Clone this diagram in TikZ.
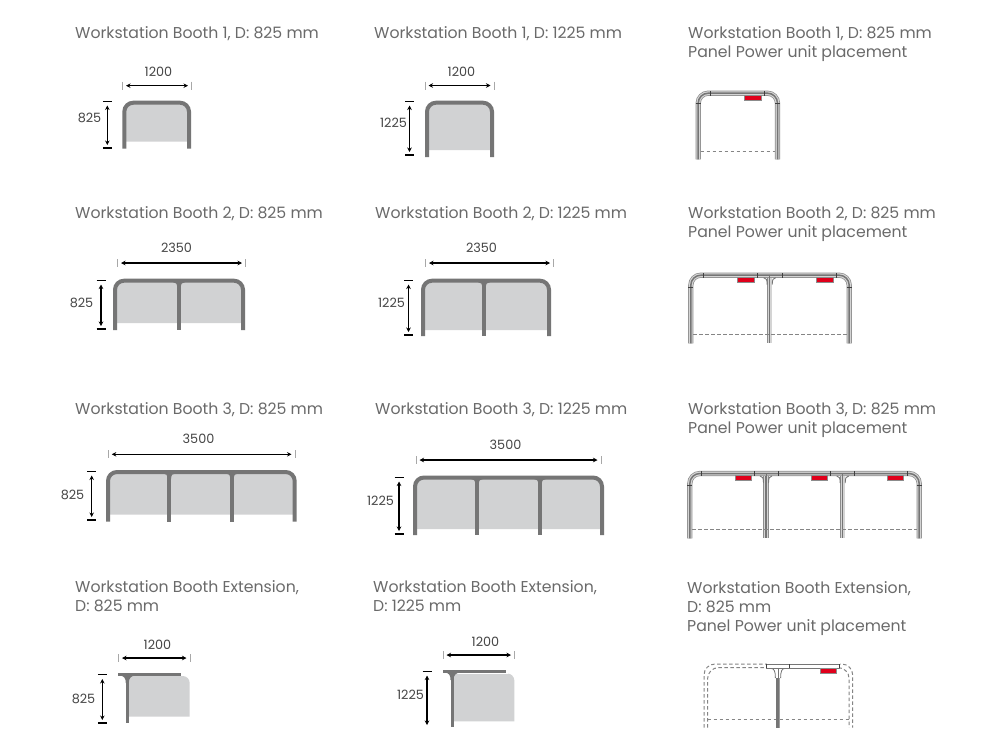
\documentclass[tikz,border=0pt]{standalone}
\usepackage{fontspec}
\setmainfont{Poppins}
\usetikzlibrary{arrows.meta}
\definecolor{titlecol}{HTML}{6A6A6A}
\definecolor{labcol}{HTML}{454545}
\definecolor{barcol}{HTML}{757575}
\definecolor{panelcol}{HTML}{D1D2D3}
\definecolor{tickcol}{HTML}{A8A8A8}
\definecolor{redcol}{HTML}{E0001B}
\definecolor{edgecol}{HTML}{8C8C8C}
\definecolor{palecol}{HTML}{D4D4D4}
\definecolor{dashcol}{HTML}{858585}
\tikzset{
  titletext/.style={anchor=north west,inner sep=0pt,align=left,text=titlecol,font=\fontsize{15.7}{19}\selectfont},
  dimtext/.style={inner sep=0pt,text=labcol,font=\fontsize{12.8}{14}\selectfont},
  dimarrow/.style={draw=black,line width=1.2pt,{Stealth[length=4.5pt,width=4.5pt]}-{Stealth[length=4.5pt,width=4.5pt]}},
  greytick/.style={draw=tickcol,line width=1pt},
  toptick/.style={draw=black,line width=.8pt},
  bottick/.style={draw=black,line width=1.6pt},
  solidbar/.style={draw=barcol,line width=4pt},
  panel/.style={fill=panelcol,draw=none},
  dashline/.style={draw=dashcol,line width=1pt,dash pattern=on 3.5pt off 2.5pt},
  redbox/.style={fill=redcol,draw=edgecol,line width=.5pt},
  smalltick/.style={draw=black!75,line width=.7pt},
}
% id, x1, x2, y, label x, label y, text
\newcommand{\hdimen}[7]{
  \coordinate (#1a) at (#2+3.5,#4);
  \coordinate (#1b) at (#3-3.5,#4);
  \draw[greytick] (#2,#4-4) -- (#2,#4+4);
  \draw[greytick] (#3,#4-4) -- (#3,#4+4);
  \draw[dimarrow] (#1a) -- (#1b);
  \node[dimtext] (#1t) at (#5+.5,#6+.5) {#7};
}
% id, x, ytop, ybot, label x, label y, text
\newcommand{\vdimen}[7]{
  \coordinate (#1a) at (#2,#3+4.5);
  \coordinate (#1b) at (#2,#4-3);
  \draw[toptick] (#2-4.5,#3) -- (#2+4.5,#3);
  \draw[bottick] (#2-4.5,#4) -- (#2+4.5,#4);
  \draw[dimarrow] (#1a) -- (#1b);
  \node[dimtext] (#1t) at (#5+.5,#6+.5) {#7};
}
% x0, x1 (outer), ytop (outer), ybot, ygrey, posts
\newcommand{\solidbooth}[6]{
  \fill[panel] (#1+2,#5) [rounded corners=8pt] -- (#1+2,#3+2) -- (#2-2,#3+2) [sharp corners] -- (#2-2,#5) -- cycle;
  \draw[solidbar,rounded corners=9pt] (#1+2,#4) -- (#1+2,#3+2) -- (#2-2,#3+2) -- (#2-2,#4);
  \foreach \p in {#6}{
    \draw[solidbar] (\p,#3+2) -- (\p,#4);
    \fill[barcol] (\p-6,#3+3.5) .. controls (\p-3,#3+3.5) and (\p-1.8,#3+5) .. (\p-1.8,#3+9)
       -- (\p+1.8,#3+9) .. controls (\p+1.8,#3+5) and (\p+3,#3+3.5) .. (\p+6,#3+3.5) -- cycle;
  }
}
% x0,x1 outer, ytop outer, ybot, ydash, posts, reds (left x), ticks, post tick y
\newcommand{\pipeframe}[9]{
  \foreach \w/\c in {5.2/edgecol,3.8/palecol,1.5/barcol}{
    \draw[draw=\c,line width=\w pt,rounded corners=10pt] (#1+2.5,#4) -- (#1+2.5,#3+2.5) -- (#2-2.5,#3+2.5) -- (#2-2.5,#4);
  }
  \foreach \p in {#6}{
    \foreach \w/\c in {5.2/edgecol,3.8/palecol,1.5/barcol}{
      \draw[draw=\c,line width=\w pt] (\p,#3+5) -- (\p,#4);
    }
    \draw[barcol,line width=.9pt] (\p-6,#3+5) .. controls (\p-3.5,#3+5) and (\p-2.5,#3+7) .. (\p-2.5,#3+12);
    \draw[barcol,line width=.9pt] (\p+6,#3+5) .. controls (\p+3.5,#3+5) and (\p+2.5,#3+7) .. (\p+2.5,#3+12);
    \draw[barcol,line width=1pt] (\p,#3+2) -- (\p,#3+10);
  }
  \foreach \t in {#8}{ \draw[smalltick] (\t,#3+.4) -- (\t,#3+5); }
  \draw[smalltick] (#1,#9) -- (#1+5,#9);
  \draw[smalltick] (#2-5,#9) -- (#2,#9);
  \draw[dashline] (#1+5,#5) -- (#2-5,#5);
  \foreach \r in {#7}{ \draw[redbox] (\r,#3+4.6) rectangle (\r+16.5,#3+9.6); }
}
\begin{document}
\begin{tikzpicture}[x=1pt,y=-1pt]
\useasboundingbox (0,0) rectangle (1000,750);
\fill[white] (0,0) rectangle (1000,750);

% titles
\node[titletext] (t11) at (75,26) {Workstation Booth 1, D: 825 mm};
\node[titletext] (t12) at (374,26) {Workstation Booth 1, D: 1225 mm};
\node[titletext] (t13) at (688,26) {Workstation Booth 1, D: 825 mm\\Panel Power unit placement};
\node[titletext] (t21) at (75,206) {Workstation Booth 2, D: 825 mm};
\node[titletext] (t22) at (375,206) {Workstation Booth 2, D: 1225 mm};
\node[titletext] (t23) at (688,206) {Workstation Booth 2, D: 825 mm\\Panel Power unit placement};
\node[titletext] (t31) at (75,402) {Workstation Booth 3, D: 825 mm};
\node[titletext] (t32) at (375,402) {Workstation Booth 3, D: 1225 mm};
\node[titletext] (t33) at (688,402) {Workstation Booth 3, D: 825 mm\\Panel Power unit placement};
\node[titletext] (t41) at (75,580) {Workstation Booth Extension,\\D: 825 mm};
\node[titletext] (t42) at (373,580) {Workstation Booth Extension,\\D: 1225 mm};
\node[titletext] (t43) at (687,581) {Workstation Booth Extension,\\D: 825 mm\\Panel Power unit placement};

% booths
\solidbooth{122.3}{191}{100.7}{148.7}{141.7}{}
\solidbooth{425}{494}{100.7}{157}{150}{}
\solidbooth{113}{245}{278.7}{330}{323}{179}
\solidbooth{421}{551}{278.7}{336}{330}{484}
\solidbooth{106}{296.7}{470}{521.7}{514.7}{169.3,232}
\solidbooth{413}{604}{475.5}{535}{529}{477,540}

% dimensions
\hdimen{h11}{122.5}{191.5}{85.7}{158}{71}{1200}
\vdimen{v11}{107.3}{101}{148}{89}{117}{825}
\hdimen{h12}{425}{494}{85.5}{461}{71}{1200}
\vdimen{v12}{409.5}{101}{155}{393}{122}{1225}
\hdimen{h21}{117.5}{245.5}{263}{176}{247}{2350}
\vdimen{v21}{101}{280}{329}{81}{302}{825}
\hdimen{h22}{425.5}{553.5}{263}{481}{247}{2350}
\vdimen{v22}{408.5}{280}{335}{391}{302}{1225}
\hdimen{h31}{108.3}{295}{454.3}{198}{438}{3500}
\vdimen{v31}{91.7}{471}{520}{72}{494}{825}
\hdimen{h32}{416}{601}{460}{505}{444}{3500}
\vdimen{v32}{399}{477}{534}{380}{500}{1225}
\hdimen{h41}{118.5}{190}{658}{157}{644}{1200}
\vdimen{v41}{102.3}{674.5}{723}{83}{698}{825}
\hdimen{h42}{443}{514.5}{655}{485}{641}{1200}

% extension booth, D 825
\fill[panel] (127,716.7) -- (127,676) [rounded corners=7pt] -- (189.7,676) [sharp corners] -- (189.7,716.7) -- cycle;
\draw[draw=white,line width=1pt] (127,675.8) -- (183,675.8);
\draw[draw=barcol,line width=3pt] (118.3,674.7) -- (181,674.7);
\draw[draw=barcol,line width=3pt] (127.3,675) -- (127.3,723);
\fill[barcol] (120,675.5) .. controls (124,676) and (125.8,678) .. (125.8,683) -- (128.8,683) .. controls (128.8,678) and (131,676) .. (135,675.5) -- cycle;

% extension booth, D 1225
\fill[panel] (452,721.3) -- (452,673.5) [rounded corners=7pt] -- (514.3,673.5) [sharp corners] -- (514.3,721.3) -- cycle;
\draw[draw=white,line width=1pt] (452,673.4) -- (508,673.4);
\draw[draw=barcol,line width=3pt] (443,671.7) -- (506,671.7);
\draw[draw=barcol,line width=3pt] (452,672) -- (452,726.7);
\fill[barcol] (445,672.5) .. controls (449,673) and (450.5,675) .. (450.5,680) -- (453.5,680) .. controls (453.5,675) and (456,673) .. (460,672.5) -- cycle;
\coordinate (v42a) at (427,675.5);
\coordinate (v42b) at (427,725);
\draw[toptick] (422.5,671) -- (431.5,671);
\draw[dimarrow] (v42a) -- (v42b);
\node[dimtext] (v42t) at (410.5,694.5) {1225};

% panel power frames
\pipeframe{695.7}{780}{90.7}{159.3}{151}{}{744.3}{710.7,764.3}{103}
\pipeframe{688.3}{851.7}{272.7}{343.3}{334.3}{769.7}{737.3,816.7}{703.3,757.3,782.3,836.7}{287}
\pipeframe{687.3}{921.7}{471}{538.3}{529.7}{766,842.7}{735,811,887}{701,754,778,830,854,907}{485}

% extension frame
\foreach \o in {0,3.6}{
  \draw[dashline,rounded corners=11pt] (704+\o,727.7) -- (704+\o,664+\o) -- (852.7-\o,664+\o) -- (852.7-\o,727.7);
}
\draw[dashline] (707.6,719.3) -- (849,719.3);
\draw[draw=white,fill=white] (766.7,663.5) rectangle (839,669);
\draw[draw=barcol,line width=.8pt] (766.7,664) rectangle (839,668);
\draw[draw=black!75,line width=.7pt] (766.7,664) -- (766.7,668.4);
\draw[draw=black!75,line width=.7pt] (789.3,664) -- (789.3,668.4);
\draw[draw=black!75,line width=.7pt] (839,664) -- (839,668.4);
\draw[draw=barcol!70,line width=4.6pt] (778,678) -- (778,727.7);
\draw[draw=barcol,line width=2.4pt] (777.4,678) -- (777.4,727.7);
\draw[barcol,line width=.8pt] (778,668) -- (778,678);
\draw[barcol,line width=.8pt] (771,668.4) .. controls (774,668.4) and (775.4,671) .. (775.4,678);
\draw[barcol,line width=.8pt] (785,668.4) .. controls (782,668.4) and (780.6,671) .. (780.6,678);
\draw[redbox] (820.3,668.4) rectangle (836,673.7);
\end{tikzpicture}
\end{document}
